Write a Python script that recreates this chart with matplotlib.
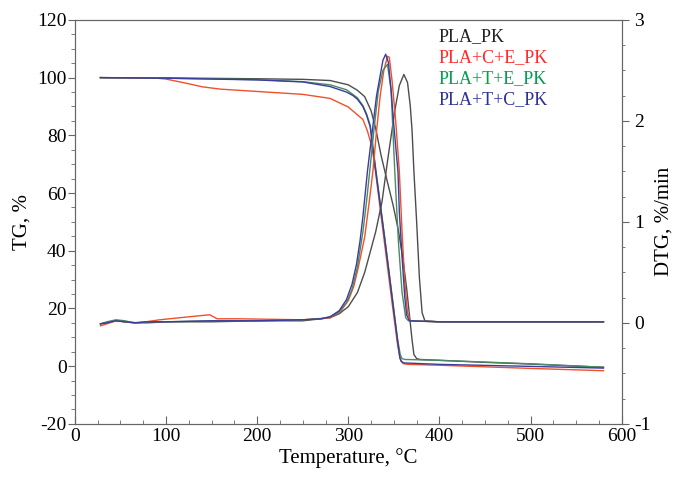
import matplotlib.pyplot as plt
from matplotlib.ticker import MultipleLocator

# ------------------------------------------------------------------
# Data (TG in %, DTG in %/min)
# ------------------------------------------------------------------
names = ["PLA_PK", "PLA+C+E_PK", "PLA+T+E_PK", "PLA+T+C_PK"]
line_colors = ["#4d4d4d", "#f0502a", "#4a8a66", "#3c3c9c"]
text_colors = ["#222222", "#ff2a2a", "#00a050", "#2e3192"]

# TG curves
tg_t_pk = [28, 100, 200, 250, 280, 300, 310, 318, 325, 330, 336, 342, 349, 355, 360, 364, 367, 370, 372, 375, 379, 400, 450, 500, 580]
tg_pk = [100, 99.9, 99.6, 99.4, 99.0, 97.5, 95.6, 93.4, 88.5, 82.5, 73, 65, 56, 47, 37, 27, 18, 9, 4.0, 2.6, 2.3, 2.0, 1.3, 0.7, -0.4]

tg_t_ce = [28, 90, 100, 120, 140, 160, 200, 250, 280, 300, 316, 321, 326, 330, 336, 342, 348, 354, 357, 360, 365, 400, 500, 580]
tg_ce = [100, 99.8, 99.5, 98.2, 96.8, 96.0, 95.2, 94.2, 92.8, 89.8, 85.5, 81.5, 76, 67, 52, 37, 22, 7.5, 2.5, 0.9, 0.6, 0.3, -0.8, -1.6]

tg_t_te = [28, 100, 200, 250, 280, 298, 310, 316, 320, 324, 330, 335, 340, 345, 350, 354, 357, 359, 362, 400, 500, 580]
tg_te = [100, 99.8, 99.3, 98.6, 97.5, 95.8, 93.0, 90.3, 87.5, 83.5, 68.5, 56.5, 44.5, 32, 19.5, 9.5, 4.0, 2.6, 2.3, 2.0, 0.8, -0.4]

tg_t_tc = [28, 100, 200, 250, 280, 298, 305, 310, 316, 320, 324, 330, 335, 340, 345, 350, 354, 356.5, 358, 361, 400, 500, 580]
tg_tc = [100, 99.8, 99.2, 98.5, 96.9, 95.0, 93.8, 92.5, 90.0, 87.0, 83.0, 68.0, 56.0, 44.0, 31.5, 19.0, 9.0, 3.0, 1.6, 1.1, 0.6, -0.1, -0.7]

# DTG curves
dtg_t_pk = [28, 35, 45, 55, 65, 80, 100, 150, 200, 250, 280, 290, 300, 310, 318, 324, 330, 337, 343, 347, 351, 356, 361, 365, 368, 370, 372, 375, 378, 381, 384, 400, 500, 580]
dtg_pk = [-0.01, 0.0, 0.02, 0.01, 0.0, 0.0, 0.01, 0.01, 0.02, 0.02, 0.05, 0.09, 0.16, 0.3, 0.5, 0.7, 0.9, 1.2, 1.6, 1.85, 2.1, 2.35, 2.46, 2.38, 2.15, 1.9, 1.5, 1.0, 0.45, 0.1, 0.02, 0.01, 0.01, 0.01]

dtg_t_ce = [28, 35, 45, 55, 70, 93, 120, 148, 156, 180, 250, 280, 292, 300, 306, 311, 318, 323, 327, 331, 335, 339, 343, 345, 348, 352, 356, 359, 362, 365, 368, 400, 500, 580]
dtg_ce = [-0.03, -0.01, 0.02, 0.01, 0.0, 0.03, 0.055, 0.08, 0.04, 0.04, 0.03, 0.05, 0.12, 0.22, 0.36, 0.55, 0.85, 1.2, 1.5, 1.9, 2.25, 2.5, 2.64, 2.63, 2.4, 2.0, 1.5, 0.9, 0.4, 0.1, 0.02, 0.01, 0.01, 0.01]

dtg_t_te = [28, 35, 45, 55, 65, 80, 100, 150, 200, 250, 270, 280, 290, 298, 304, 310, 316, 320, 323.5, 328, 333, 338, 343, 347, 351, 355, 359, 363, 366, 400, 500, 580]
dtg_te = [-0.01, 0.01, 0.03, 0.02, 0.0, 0.01, 0.01, 0.02, 0.02, 0.03, 0.04, 0.06, 0.11, 0.2, 0.33, 0.55, 0.9, 1.2, 1.5, 1.9, 2.3, 2.5, 2.56, 2.3, 1.5, 0.8, 0.3, 0.05, 0.02, 0.01, 0.01, 0.01]

dtg_t_tc = [28, 35, 45, 55, 65, 80, 100, 150, 200, 250, 270, 280, 290, 298, 304, 309, 313, 316, 321, 327, 331, 335, 338, 341, 344, 347, 350, 354.5, 356, 359, 362, 364, 367, 400, 500, 580]
dtg_tc = [-0.01, 0.0, 0.02, 0.01, 0.0, 0.01, 0.01, 0.02, 0.02, 0.03, 0.04, 0.06, 0.12, 0.23, 0.38, 0.58, 0.82, 1.05, 1.5, 1.95, 2.25, 2.45, 2.6, 2.66, 2.58, 2.3, 1.95, 1.5, 1.1, 0.65, 0.25, 0.08, 0.02, 0.01, 0.01, 0.01]

tg_series = [(tg_t_pk, tg_pk), (tg_t_ce, tg_ce), (tg_t_te, tg_te), (tg_t_tc, tg_tc)]
dtg_series = [(dtg_t_pk, dtg_pk), (dtg_t_ce, dtg_ce), (dtg_t_te, dtg_te), (dtg_t_tc, dtg_tc)]

plt.rcParams['font.family'] = ['Liberation Serif', 'DejaVu Serif']
plt.rcParams['axes.unicode_minus'] = False

fig = plt.figure(figsize=(6.75, 4.86), dpi=100)
ax = fig.add_axes([0.111, 0.128, 0.810, 0.831])
ax2 = ax.twinx()

for (t, v), c in zip(tg_series, line_colors):
    ax.plot(t, v, color=c, lw=1.0)
for (t, v), c in zip(dtg_series, line_colors):
    ax2.plot(t, v, color=c, lw=1.0)

ax.set_xlim(0, 600)
ax.set_ylim(-20, 120)
ax2.set_ylim(-1, 3)

ax.xaxis.set_major_locator(MultipleLocator(100))
ax.xaxis.set_minor_locator(MultipleLocator(25))
ax.yaxis.set_major_locator(MultipleLocator(20))
ax.yaxis.set_minor_locator(MultipleLocator(5))
ax2.yaxis.set_major_locator(MultipleLocator(1))
ax2.yaxis.set_minor_locator(MultipleLocator(0.25))

spine_c = "#666666"
for a in (ax, ax2):
    for s in a.spines.values():
        s.set_color(spine_c)
        s.set_linewidth(0.8)

ax.tick_params(axis='x', which='major', direction='in', length=6, color=spine_c, labelsize=14, pad=3)
ax.tick_params(axis='x', which='minor', direction='in', length=3, color=spine_c)
ax.tick_params(axis='y', which='major', direction='out', length=5, color=spine_c, labelsize=14, pad=1)
ax.tick_params(axis='y', which='minor', direction='out', length=3, color=spine_c)
ax2.tick_params(axis='y', which='major', direction='out', length=5, color=spine_c, labelsize=14, pad=4)
ax2.tick_params(axis='y', which='minor', direction='out', length=2.5, color=spine_c)

ax.set_xlabel("Temperature, °C", fontsize=15, labelpad=2)
ax.set_ylabel("TG, %", fontsize=15, labelpad=4)
ax2.set_ylabel("DTG, %/min", fontsize=15, labelpad=3)

# legend as coloured text, no handles
for i, (n, c) in enumerate(zip(names, text_colors)):
    ax.text(0.665, 0.958 - i * 0.052, n, color=c, fontsize=13,
            transform=ax.transAxes, ha='left', va='center')

fig.savefig("out.png", dpi=100)
